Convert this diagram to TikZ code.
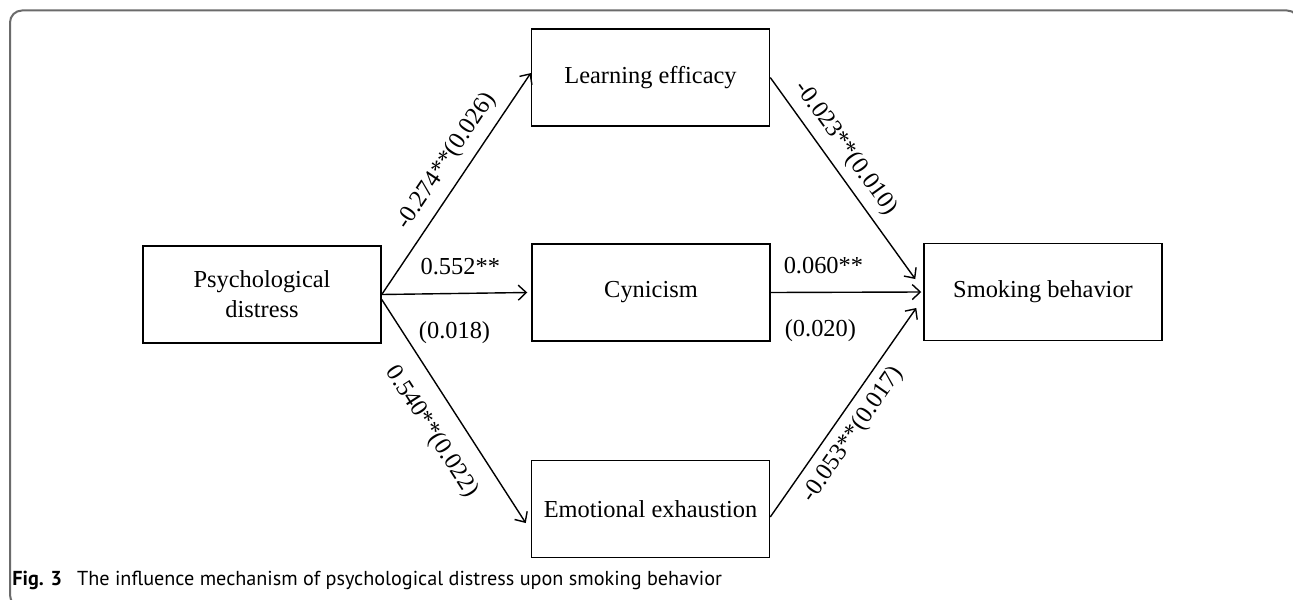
\documentclass[tikz,border=0pt]{standalone}
\usepackage{fontspec}
\setmainfont{Liberation Serif}
\newfontfamily\capfont{PT Sans}
\usetikzlibrary{arrows.meta}
\colorlet{frameGray}{black!58}
\tikzset{
	var/.style={draw,line width=0.75pt,minimum width=119pt,minimum height=48.5pt,align=center,inner sep=2pt,font=\fontsize{12.2}{15}\selectfont},
	effect/.style={line width=0.7pt,-{Straight Barb[length=4pt,width=7.5pt]}},
	coef/.style={inner sep=2pt,font=\fontsize{12.2}{15}\selectfont}
}

\begin{document}
\begin{tikzpicture}[x=0.5pt,y=-0.5pt]
\useasboundingbox (0,0) rectangle (1293,599);
\begin{scope}
	\clip (0,0) rectangle (1293,599);
	\draw[frameGray,line width=1pt,rounded corners=6pt] (10,10.5) rectangle (1299,607);
\end{scope}
% variables
\node[var] (pd) at (262,294.5) {Psychological\\distress};
\node[var] (le) at (650.5,77.5) {Learning efficacy};
\node[var] (cy) at (651,292.5) {Cynicism};
\node[var] (ee) at (650.5,509) {Emotional exhaustion};
\node[var] (sb) at (1043,292) {Smoking behavior};
% paths from psychological distress
\draw[effect] (pd.east) -- ([yshift=2.2pt]le.west)
	node[coef,sloped,above=2.5pt,pos=0.55] {-0.274**(0.026)};
\draw[effect] (pd.east) -- ([xshift=-2pt]cy.west)
	node[coef,above=7pt,pos=0.54] {0.552**}
	node[coef,below=11.5pt,pos=0.5] {(0.018)};
\draw[effect] ([yshift=-2.5pt]pd.east) -- ([xshift=-2.5pt,yshift=-7pt]ee.west)
	node[coef,sloped,below=7pt,pos=0.52] {0.540**(0.022)};
% paths to smoking behavior
\draw[effect] (le.east) -- ([xshift=-4pt,yshift=6.5pt]sb.west)
	node[coef,sloped,above=2pt,pos=0.41] {-0.023**(0.010)};
\draw[effect] (cy.east) -- ([xshift=-1pt]sb.west)
	node[coef,above=7pt,pos=0.35] {0.060**}
	node[coef,below=11.5pt,pos=0.33] {(0.020)};
\draw[effect] ([yshift=-4pt]ee.east) -- ([xshift=-3.5pt,yshift=-8pt]sb.west)
	node[coef,sloped,below=2.5pt,pos=0.45] {-0.053**(0.017)};
% caption
\node[anchor=base west,inner sep=0pt,font=\capfont\fontsize{10.1}{12}\selectfont] (cap) at (12,585)
	{\textbf{Fig. 3}\hspace{7.5pt}The influence mechanism of psychological distress upon smoking behavior};
\end{tikzpicture}
\end{document}
